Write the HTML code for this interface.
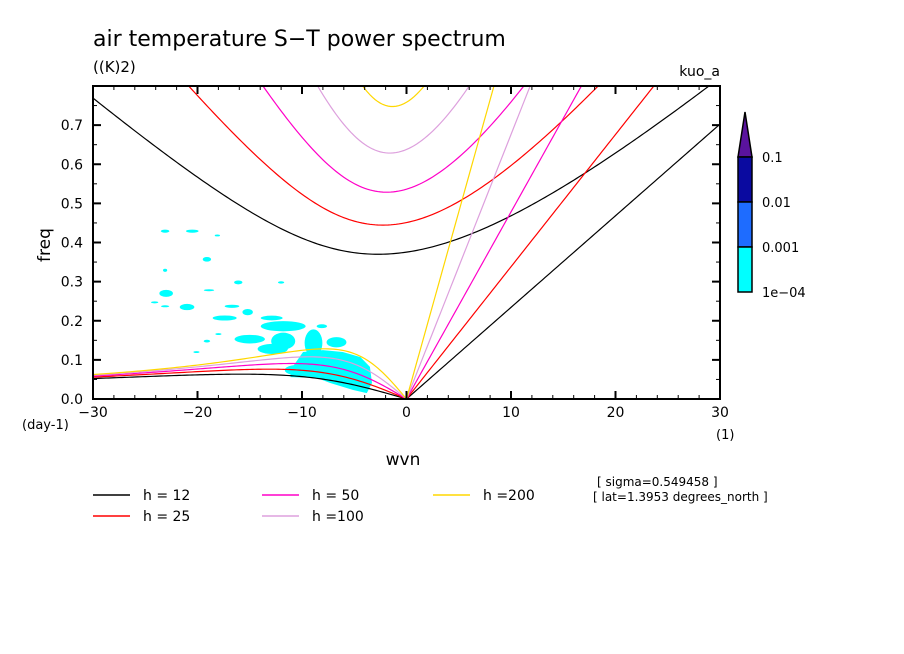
<!DOCTYPE html>
<html><head><meta charset="utf-8"><style>
body{margin:0;background:#fff;}
svg{display:block;font-family:"DejaVu Sans","Liberation Sans",sans-serif;}
</style></head><body>
<svg id="chart" width="904" height="654" viewBox="0 0 904 654">
<defs><clipPath id="pc"><rect x="93" y="86" width="627" height="313"/></clipPath></defs>
<rect width="904" height="654" fill="#fff"/>
<text x="93" y="46" font-size="22">air temperature S−T power spectrum</text>
<text x="93" y="72" font-size="15">((K)2)</text>
<text x="720" y="76" font-size="14" text-anchor="end">kuo_a</text>
<g id="blobs" clip-path="url(#pc)"></g>
<g id="curves" clip-path="url(#pc)"></g>
<g id="axes"></g>
<rect x="93" y="86" width="627" height="313" fill="none" stroke="#000" stroke-width="2"/>
<text x="50" y="245" font-size="17" transform="rotate(-90 50 245)" text-anchor="middle">freq</text>
<text x="403" y="465" font-size="17" text-anchor="middle">wvn</text>
<text x="22" y="429" font-size="13">(day-1)</text>
<text x="716" y="439" font-size="13">(1)</text>
<g>
<polygon points="738,157 745,112 752,157" fill="#5a139e" stroke="#000" stroke-width="1.5"/>
<rect x="738" y="157" width="14" height="45" fill="#0a0aa0" stroke="#000" stroke-width="1.5"/>
<rect x="738" y="202" width="14" height="45" fill="#1e6cff" stroke="#000" stroke-width="1.5"/>
<rect x="738" y="247" width="14" height="45" fill="#00ffff" stroke="#000" stroke-width="1.5"/>
<text x="762" y="162" font-size="13">0.1</text>
<text x="762" y="207" font-size="13">0.01</text>
<text x="762" y="252" font-size="13">0.001</text>
<text x="762" y="297" font-size="13">1e−04</text>
</g>
<g id="legend"></g>
<text x="597" y="486" font-size="12">[ sigma=0.549458 ]</text>
<text x="593" y="501" font-size="12">[ lat=1.3953 degrees_north ]</text>
</svg>
<script>
// data
const depths = [12, 25, 50, 100, 200];
const depthColors = ["#000000", "#ff0000", "#ff00c8", "#dda0dd", "#ffd700"];
const xTicks = [-30, -20, -10, 0, 10, 20, 30];
const yTicks = [0, 0.1, 0.2, 0.3, 0.4, 0.5, 0.6, 0.7];
const blobWvn = [-23.1,-20.5,-18.1,-19.1,-23.1,-16.1,-12.0,-23.0,-18.9,-24.1,-23.1,-21.0,-16.7,-15.2,-17.4,-12.9,-11.8,-8.1,-18.0,-15.0,-19.1,-11.8,-8.9,-6.7,-12.8,-10.5,-20.1];
const blobFreq = [.429,.429,.418,.357,.329,.298,.298,.270,.278,.247,.237,.235,.237,.222,.207,.207,.186,.186,.166,.153,.148,.148,.143,.145,.128,.074,.12];
const blobDw = [.8,1.2,.5,.8,.4,.8,.6,1.3,1.0,.7,.8,1.4,1.4,1.0,2.3,2.1,4.3,1.0,.6,2.9,.6,2.3,1.7,1.9,2.9,2.3,.6];
const blobDf = [.008,.008,.005,.012,.008,.01,.006,.018,.005,.005,.005,.016,.008,.016,.013,.012,.026,.01,.005,.022,.007,.043,.07,.026,.026,.026,.005];
const regionWvn = [-11.1,-9.9,-8.0,-6.1,-4.4,-3.5,-3.3,-3.8,-5.1,-7.3,-8.6,-11.1];
const regionFreq = [.074,.12,.125,.12,.107,.082,.041,.015,.023,.041,.054,.056];

const NS="http://www.w3.org/2000/svg";
const X0=93,X1=720,Y0=399,Y1=86,FMAX=0.8;
const sx=s=>X0+(s+30)/60*(X1-X0);
const sy=f=>Y0-f/FMAX*(Y0-Y1);
function mk(tag,attrs,parent){const e=document.createElementNS(NS,tag);for(const k in attrs)e.setAttribute(k,attrs[k]);parent.appendChild(e);return e;}

// blobs
const bg=document.getElementById('blobs');
for(let i=0;i<blobWvn.length;i++){
  const e=mk('ellipse',{cx:sx(blobWvn[i]),cy:sy(blobFreq[i]),rx:blobDw[i]/60*(X1-X0)/2,ry:blobDf[i]/FMAX*(Y0-Y1)/2,fill:'#00ffff'},bg);
  
  
}
const rp=mk('polygon',{points:regionWvn.map((w,i)=>sx(w)+','+sy(regionFreq[i])).join(' '),fill:'#00ffff'},bg);



// dispersion
const a=6.371e6,Om=7.292e-5,beta=2*Om/a,g=9.81,toCpd=86400/(2*Math.PI);
function solve(k,c,w0){let w=w0;for(let i=0;i<60;i++){const f=w*w*w-(c*c*k*k+3*beta*c)*w-beta*k*c*c;const d=3*w*w-(c*c*k*k+3*beta*c);w-=f/d;}return w;}
const cg=document.getElementById('curves');
depths.forEach((h,j)=>{
  const c=Math.sqrt(g*h),col=depthColors[j];
  let ig=[],ro=[],kv=[];
  for(let s=-30;s<=30.001;s+=0.25){
    const k=s/a;
    const wi=solve(k,c,Math.sqrt(c*c*k*k+3*beta*c));
    ig.push(sx(s)+','+sy(wi*toCpd));
    if(s<=0){const wr=s===0?0:solve(k,c,-beta*k/(k*k+3*beta/c));ro.push(sx(s)+','+sy(wr*toCpd));}
    if(s>=0){kv.push(sx(s)+','+sy(c*k*toCpd));}
  }
  [[ig,'ig-curve'],[ro,'rossby-curve'],[kv,'kelvin-line']].forEach(([p,n])=>{
    const e=mk('polyline',{points:p.join(' '),fill:'none',stroke:col,'stroke-width':1.2},cg);
    
    
  });
});

// axes
const ag=document.getElementById('axes');
for(let s=-30;s<=30;s+=2){const big=s%10===0,L=big?8:4;
  mk('line',{x1:sx(s),x2:sx(s),y1:Y0,y2:Y0-L,stroke:'#000','stroke-width':big?2:1},ag);
  mk('line',{x1:sx(s),x2:sx(s),y1:Y1,y2:Y1+L,stroke:'#000','stroke-width':big?2:1},ag);}
for(let i=0;i<=15;i++){const f=i*0.05,big=i%2===0,L=big?8:4;
  mk('line',{x1:X0,x2:X0+L,y1:sy(f),y2:sy(f),stroke:'#000','stroke-width':big?2:1},ag);
  mk('line',{x1:X1,x2:X1-L,y1:sy(f),y2:sy(f),stroke:'#000','stroke-width':big?2:1},ag);}
xTicks.forEach(t=>{const e=mk('text',{x:sx(t),y:Y0+18,'font-size':14,'text-anchor':'middle'},ag);e.textContent=(t<0?'−':'')+Math.abs(t);
  
  });
yTicks.forEach(t=>{const e=mk('text',{x:X0-10,y:sy(t)+5,'font-size':14,'text-anchor':'end'},ag);e.textContent=t.toFixed(1);
  
  });

// legend
const lg=document.getElementById('legend');
const legendLabels=["h = 12","h = 25","h = 50","h =100","h =200"];
const lx=[93,93,262,262,433],ly=[495,516,495,516,495];
depths.forEach((h,j)=>{
  const gi=mk('g',{},lg);
  
  
  mk('line',{x1:lx[j],x2:lx[j]+37,y1:ly[j],y2:ly[j],stroke:depthColors[j],'stroke-width':1.5},gi);
  const t=mk('text',{x:lx[j]+50,y:ly[j]+5,'font-size':14},gi);t.textContent=legendLabels[j];
});
</script>
</body></html>
